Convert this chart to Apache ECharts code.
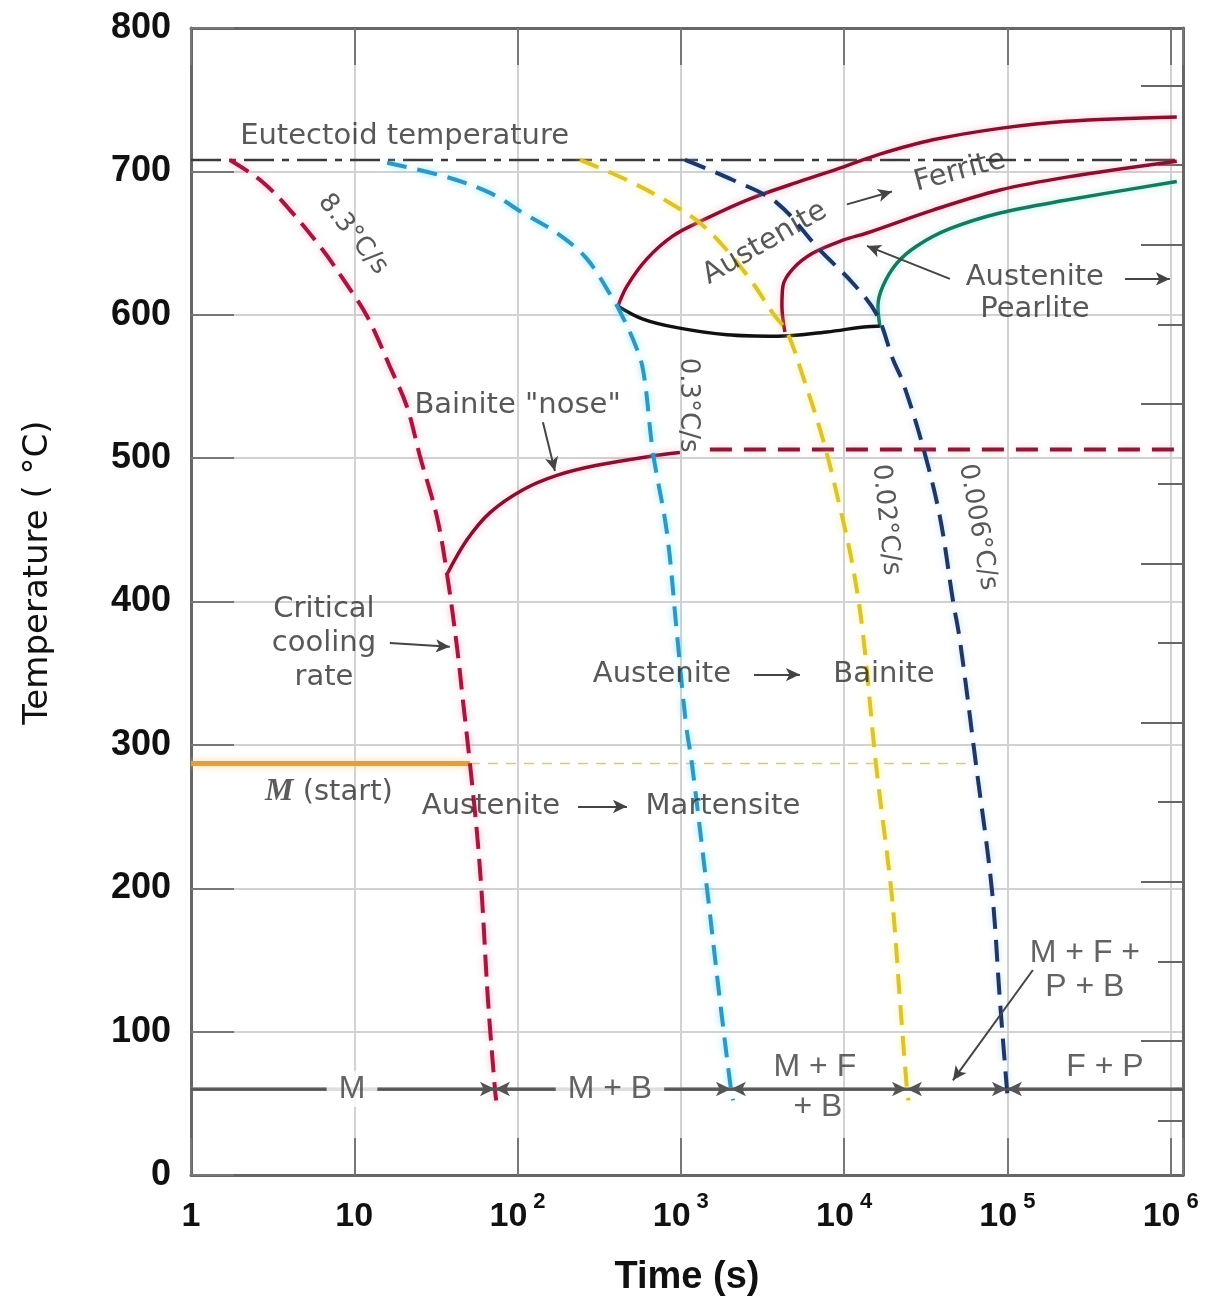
<!DOCTYPE html>
<html><head><meta charset="utf-8">
<script src="https://cdn.jsdelivr.net/npm/echarts@6/dist/echarts.min.js"></script>
<style>html,body{margin:0;padding:0;background:#fff}#chart{width:1220px;height:1301px}</style>
</head><body><div id="chart"></div>
<script>
// ---------- data (time in s, temperature in °C) ----------
const xMax = 1.19e6;
const eutectoidTemp = 708;
const mStartTemp = 287;
const phaseLineTemp = 60;

const rate83 = [[1.73,708],[2.72,693],[4.04,673],[6.43,645],[8.53,625],[11.97,599],[16.5,564],[21.0,536],[25.3,501],[32.1,459],[37.0,419],[42.6,368],[46.3,331],[51.1,287],[56.4,239],[60.5,194],[65.9,122],[72.7,60],[74,52]];
const rate03 = [[15.9,706],[37,696],[67.8,685],[108,671],[174,657],[266,639],[384,611],[412,605],[509,583],[586,562],[675,504],[822,448],[946,378],[1074,315],[1169,287],[1466,194],[1735,122],[2027,60],[2090,52]];
const rate002 = [[241,708],[468,694],[857,678],[1309,664],[1915,645],[2763,622],[3664,601],[4465,588],[5596,557],[7419,513],[9420,466],[11320,424],[13030,378],[15660,287],[19630,194],[21970,122],[24260,60],[24800,52]];
const rate0006 = [[1060,708],[2084,694],[3875,678],[7113,645],[11320,622],[15880,600],[19900,569],[22910,553],[30380,508],[38620,459],[46370,401],[51170,373],[64130,287],[80380,199],[89980,122],[99330,60],[101000,52]];

const ferriteStart = [[412,606],[468,620],[620,639],[895,655],[1365,666],[2541,680],[5358,693],[9834,703],[16560,712],[34990,722],[89980,730],[231200,735],[1.09e6,738]];
const pearliteStart = [[4339,588],[4160,606],[4220,620],[4856,632],[6442,643],[9834,652],[13800,657],[34990,673],[89980,687],[231200,696],[1.09e6,707]];
const pearliteFinish = [[16560,592],[16110,606],[17290,620],[21050,636],[27920,648],[44450,660],[89980,671],[231200,680],[1.09e6,693]];
const transLower = [[412,606],[586,597],[946,591],[1915,586],[3875,585],[7850,588],[15880,592],[16560,592]];
const bainiteStart = [[37.0,419],[49.0,443],[67.8,462],[108,478],[174,488],[306,495],[714,502],[987,504]];
const bainiteDashed = [[1507,506],[xMax,506]];

const eutectoidLine = [[1,eutectoidTemp],[xMax,eutectoidTemp]];
const mStartSolid = [[1,mStartTemp],[51.1,mStartTemp]];
const mStartDashed = [[51.1,mStartTemp],[55700,mStartTemp]];
const phaseLine = [[1,phaseLineTemp],[xMax,phaseLineTemp]];
// where the cooling curves cross the final-structure line
const phaseBounds = [1, 72.7, 2027, 24260, 99330, xMax];

// right-hand axis ticks in °F
const fTicksLong = [200,400,600,800,1000,1200,1400];
const fTicksShort = [100,300,500,700,900,1100,1300];
const toC = f => (f - 32) * 5 / 9;

// ---------- annotations ----------
const notes = [
  {text:'Eutectoid temperature', t:2.0, T:724, kind:'note', align:'left'},
  {text:'8.3°C/s', t:9.8, T:656, kind:'rate', rotate:-51},
  {text:'0.3°C/s', t:1105, T:537, kind:'rate', rotate:-90},
  {text:'0.02°C/s', t:18030, T:457, kind:'rate', rotate:-84},
  {text:'0.006°C/s', t:65950, T:452, kind:'rate', rotate:-80},
  {text:'Bainite "nose"', t:100, T:537, kind:'note'},
  {text:'Critical\ncooling\nrate', t:6.52, T:371, kind:'note'},
  {text:'Austenite', t:3273, T:650, kind:'note', rotate:30},
  {text:'Ferrite', t:51170, T:700, kind:'note', rotate:15},
  {text:'Austenite', t:147300, T:626, kind:'note'},
  {text:'Pearlite', t:147300, T:604, kind:'note'},
  {text:'Austenite', t:766, T:349, kind:'note'},
  {text:'Bainite', t:17540, T:349, kind:'note'},
  {text:'{i|M} (start)', t:2.84, T:267, kind:'note', align:'left'},
  {text:'Austenite', t:68.7, T:257, kind:'note'},
  {text:'Martensite', t:1811, T:257, kind:'note'},
  {text:'M', t:9.68, T:60, kind:'phaseBg'},
  {text:'M + B', t:368, T:60, kind:'phaseBg'},
  {text:'M + F', t:6622, T:75, kind:'phase'},
  {text:'+ B', t:6920, T:47, kind:'phase'},
  {text:'F + P', t:395500, T:75, kind:'phase'},
  {text:'M + F +', t:298300, T:155, kind:'phase'},
  {text:'P + B', t:298300, T:131, kind:'phase'}
];
const pointers = [
  [[143,525],[169.4,491]],
  [[16.5,371],[38.5,368.5]],
  [[10400,677],[19630,686]],
  [[524800,625],[988000,625]],
  [[44450,625],[13800,648]],
  [[2805,349],[5358,349]],
  [[234.4,257],[467.7,257]],
  [[143300,143],[46370,66]]
];

// ---------- styles ----------
const labelStyles = {
  note:{fontFamily:'DejaVu Sans', fontSize:29, color:'#2e2e2e', lineHeight:34},
  rate:{fontFamily:'DejaVu Sans', fontSize:26, color:'#2e2e2e'},
  phase:{fontFamily:'Liberation Sans', fontSize:32, color:'#3c3c3c'},
  phaseBg:{fontFamily:'Liberation Sans', fontSize:32, color:'#3c3c3c', backgroundColor:'#fff', padding:[2,12]}
};

function decadeLabel(v){
  const e = Math.log10(v), r = Math.round(e);
  if (Math.abs(e - r) > 1e-6) return '';
  if (r === 0) return '{b|1}';
  if (r === 1) return '{b|10}';
  return '{b|10}{s|' + r + '}';
}

function line(name, data, lineStyle, opts){
  return Object.assign({name, type:'line', data, showSymbol:false, symbol:'none', smooth:0.35,
    lineStyle, silent:true, animation:false, z:3}, opts||{});
}
const glow = (c, w, type, g) => ({color:c, width:w, type:type||'solid', cap:'butt', shadowColor:g||'transparent', shadowBlur:g?7:0});

const phaseArrows = [];
for (let i = 0; i < phaseBounds.length - 1; i++){
  phaseArrows.push([
    {coord:[phaseBounds[i], phaseLineTemp], symbol: i === 0 ? 'none' : 'arrow'},
    {coord:[phaseBounds[i+1], phaseLineTemp], symbol: i === phaseBounds.length - 2 ? 'none' : 'arrow'}
  ]);
}

const chart = echarts.init(document.getElementById('chart'), null, {renderer:'canvas'});
const axisLineStyle = {color:'#666', width:3};
chart.setOption({
  backgroundColor:'#fff',
  animation:false,
  grid:{left:191, right:37, top:28, bottom:126, containLabel:false, outerBoundsMode:'none'},
  xAxis:[
    {type:'log', logBase:10, min:1, max:xMax, position:'bottom',
     axisLine:{show:true, onZero:false, lineStyle:axisLineStyle},
     axisTick:{show:true, inside:true, length:37, lineStyle:{color:'#777', width:2}},
     minorTick:{show:false},
     splitLine:{show:true, lineStyle:{color:'#d2d2d2', width:2}},
     axisLabel:{formatter:decadeLabel, margin:16, showMinLabel:true, showMaxLabel:true,
       rich:{b:{fontFamily:'Liberation Sans', fontWeight:'bold', fontSize:34, color:'#111', lineHeight:52},
             s:{fontFamily:'Liberation Sans', fontWeight:'bold', fontSize:22, color:'#111', verticalAlign:'top', lineHeight:24, padding:[0,0,0,6]}}},
     name:'Time (s)', nameLocation:'middle', nameGap:84,
     nameTextStyle:{fontFamily:'Liberation Sans', fontWeight:'bold', fontSize:38, color:'#111', verticalAlign:'top'}},
    {type:'log', logBase:10, min:1, max:xMax, position:'top',
     axisLine:{show:true, onZero:false, lineStyle:axisLineStyle},
     axisTick:{show:true, inside:true, length:37, lineStyle:{color:'#777', width:2}},
     axisLabel:{show:false}, splitLine:{show:false}}
  ],
  yAxis:[
    {type:'value', min:0, max:800, interval:100, position:'left',
     axisLine:{show:true, onZero:false, lineStyle:axisLineStyle},
     axisTick:{show:true, inside:true, length:43, lineStyle:{color:'#777', width:2}},
     splitLine:{show:true, lineStyle:{color:'#d2d2d2', width:2}},
     axisLabel:{margin:20, fontFamily:'Liberation Sans', fontWeight:'bold', fontSize:36, color:'#111'},
     name:'Temperature ( °C)', nameLocation:'middle', nameGap:136,
     nameTextStyle:{fontFamily:'DejaVu Sans', fontSize:34, color:'#111', padding:[0,0,0,58]}},
    {type:'value', min:0, max:800, position:'right',
     axisLine:{show:true, onZero:false, lineStyle:axisLineStyle},
     axisTick:{show:true, inside:true, length:42, customValues:fTicksLong.map(toC), lineStyle:{color:'#666', width:2}},
     axisLabel:{show:false}, splitLine:{show:false}},
    {type:'value', min:0, max:800, position:'right',
     axisLine:{show:false},
     axisTick:{show:true, inside:true, length:25, customValues:fTicksShort.map(toC), lineStyle:{color:'#666', width:2}},
     axisLabel:{show:false}, splitLine:{show:false}}
  ],
  series:[
    line('Eutectoid temperature', eutectoidLine, glow('#3a3a3a', 2.5, [30,8,7,8]), {smooth:false}),
    line('M start', mStartSolid, glow('#e2a03a', 5, 'solid', 'rgba(255,205,120,0.8)'), {smooth:false}),
    line('M start (dashed)', mStartDashed, glow('#e8c56c', 1.6, [10,8]), {smooth:false}),
    line('Final structures', phaseLine, glow('#7d7d7d', 3.5), {smooth:false,
      markLine:{silent:true, animation:false, symbol:['none','arrow'], symbolSize:[11,15],
        label:{show:false}, emphasis:{disabled:true},
        lineStyle:{color:'#555', width:2.5, type:'solid'}, data:phaseArrows}}),
    line('Austenite → Ferrite start', ferriteStart, glow('#8c0e2e', 3.5, 'solid', 'rgba(255,140,170,0.6)')),
    line('Pearlite start', pearliteStart, glow('#8c0e2e', 3.5, 'solid', 'rgba(255,140,170,0.6)')),
    line('Pearlite finish', pearliteFinish, glow('#127a5e', 3.5, 'solid', 'rgba(120,230,200,0.6)')),
    line('Transformation lower', transLower, glow('#111', 3.5)),
    line('Bainite start', bainiteStart, glow('#8c0e2e', 3.5, 'solid', 'rgba(255,140,170,0.6)')),
    line('Bainite start (dashed)', bainiteDashed, glow('#8c1a36', 4, [22,12], 'rgba(255,150,170,0.5)'), {smooth:false}),
    line('8.3°C/s', rate83, glow('#a8163f', 4, [22,10], 'rgba(255,120,160,0.6)'), {z:4}),
    line('0.3°C/s', rate03, glow('#2f97c2', 4, [20,11], 'rgba(90,225,255,0.8)'), {z:4}),
    line('0.02°C/s', rate002, glow('#dcc32e', 4, [20,11], 'rgba(255,240,110,0.9)'), {z:4}),
    line('0.006°C/s', rate0006, glow('#1f3766', 4, [22,11], 'rgba(150,200,255,0.6)'), {z:4}),
    {type:'line', name:'pointers', data:[], silent:true, animation:false, z:6,
     markLine:{silent:true, animation:false, symbol:['none','arrow'], symbolSize:[10,14],
       label:{show:false}, emphasis:{disabled:true},
       lineStyle:{color:'#444', width:2, type:'solid'},
       data:pointers.map(p => [{coord:p[0]},{coord:p[1]}])}},
    {type:'scatter', name:'annotations', silent:true, animation:false, z:8,
     symbol:'circle', symbolSize:1, itemStyle:{color:'rgba(0,0,0,0)'},
     data:notes.map(n => ({value:[n.t, n.T], label:Object.assign({show:true, position:'inside',
        formatter:n.text, rotate:n.rotate||0, align:n.align||'center', verticalAlign:'middle',
        rich:{i:{fontFamily:'Liberation Serif', fontStyle:'italic', fontWeight:'bold', fontSize:32, color:'#333'}}},
        labelStyles[n.kind])}))}
  ]
});
</script></body></html>
